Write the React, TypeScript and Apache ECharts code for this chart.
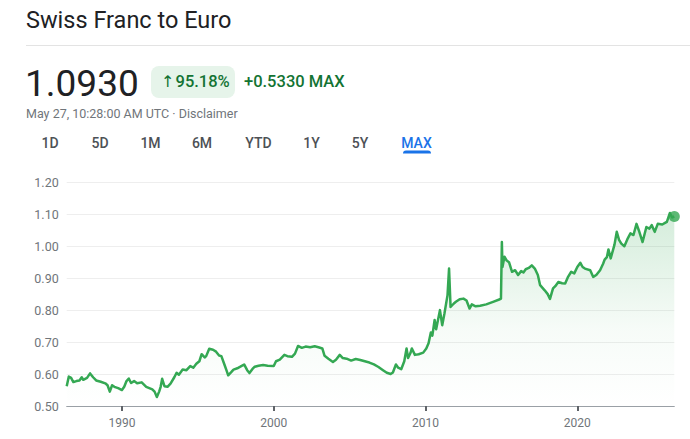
import React, { useEffect, useRef } from "react";
import * as echarts from "echarts";

const years = [
  1986.36, 1986.5, 1986.65, 1986.8, 1987.0, 1987.2, 1987.35, 1987.45, 1987.7, 1987.9,
  1988.1, 1988.3, 1988.6, 1988.9, 1989.05, 1989.2, 1989.35, 1989.5, 1989.75, 1990.0,
  1990.15, 1990.3, 1990.45, 1990.6, 1990.8, 1991.0, 1991.3, 1991.6, 1991.8, 1992.0,
  1992.15, 1992.3, 1992.45, 1992.55, 1992.65, 1992.8, 1993.0, 1993.2, 1993.45, 1993.6,
  1993.75, 1994.0, 1994.25, 1994.5, 1994.7, 1994.9, 1995.1, 1995.25, 1995.45, 1995.55,
  1995.75, 1996.0, 1996.2, 1996.4, 1996.55, 1996.75, 1996.9, 1997.0, 1997.2, 1997.35,
  1997.6, 1997.8, 1998.05, 1998.25, 1998.4, 1998.6, 1998.75, 1999.0, 1999.3, 1999.6,
  2000.0, 2000.15, 2000.4, 2000.7, 2000.9, 2001.2, 2001.4, 2001.6, 2001.85, 2002.1,
  2002.4, 2002.7, 2003.0, 2003.2, 2003.35, 2003.6, 2003.9, 2004.1, 2004.35, 2004.55,
  2004.8, 2005.1, 2005.4, 2005.7, 2006.0, 2006.3, 2006.6, 2006.9, 2007.2, 2007.45,
  2007.7, 2007.85, 2008.05, 2008.2, 2008.4, 2008.6, 2008.75, 2008.85, 2009.0, 2009.1,
  2009.3, 2009.55, 2009.85, 2010.05, 2010.2, 2010.35, 2010.45, 2010.6, 2010.7, 2010.95,
  2011.1, 2011.25, 2011.45, 2011.55, 2011.65, 2011.85, 2012.0, 2012.25, 2012.5, 2012.7,
  2012.9, 2013.05, 2013.3, 2013.6, 2014.0, 2014.45, 2014.9, 2014.97, 2015.03, 2015.07,
  2015.2, 2015.35, 2015.5, 2015.7, 2015.9, 2016.1, 2016.3, 2016.45, 2016.6, 2016.8,
  2017.0, 2017.2, 2017.4, 2017.55, 2017.85, 2018.05, 2018.2, 2018.4, 2018.55, 2018.75,
  2019.0, 2019.2, 2019.4, 2019.6, 2019.8, 2020.0, 2020.2, 2020.35, 2020.5, 2020.85,
  2021.05, 2021.25, 2021.5, 2021.7, 2021.8, 2021.95, 2022.05, 2022.2, 2022.45, 2022.6,
  2022.75, 2022.9, 2023.1, 2023.3, 2023.5, 2023.7, 2023.9, 2024.05, 2024.3, 2024.55,
  2024.75, 2024.9, 2025.1, 2025.3, 2025.6, 2025.75, 2025.9, 2026.1, 2026.25, 2026.39,
];

const rates = [
  0.562, 0.592, 0.588, 0.575, 0.578, 0.58, 0.59, 0.582, 0.588, 0.602,
  0.59, 0.58, 0.576, 0.571, 0.565, 0.545, 0.565, 0.56, 0.556, 0.55,
  0.56, 0.578, 0.586, 0.572, 0.578, 0.571, 0.574, 0.56, 0.556, 0.552,
  0.545, 0.528, 0.545, 0.56, 0.585, 0.562, 0.56, 0.57, 0.59, 0.604,
  0.598, 0.614, 0.612, 0.625, 0.62, 0.632, 0.64, 0.662, 0.652, 0.656,
  0.679, 0.676, 0.67, 0.658, 0.656, 0.63, 0.61, 0.596, 0.606, 0.614,
  0.618, 0.623, 0.63, 0.612, 0.603, 0.616, 0.623, 0.626, 0.628, 0.626,
  0.625, 0.64, 0.645, 0.66, 0.656, 0.654, 0.664, 0.688, 0.682, 0.686,
  0.684, 0.687, 0.683, 0.68, 0.657, 0.648, 0.638, 0.645, 0.66, 0.65,
  0.648, 0.642, 0.647, 0.644, 0.64, 0.636, 0.63, 0.622, 0.612, 0.604,
  0.6, 0.605, 0.63, 0.62, 0.615, 0.64, 0.68, 0.65, 0.665, 0.68,
  0.66, 0.662, 0.667, 0.68, 0.696, 0.73, 0.72, 0.769, 0.74, 0.8,
  0.753, 0.79, 0.847, 0.93, 0.81, 0.82, 0.826, 0.834, 0.836, 0.83,
  0.805, 0.818, 0.812, 0.814, 0.818, 0.826, 0.834, 0.836, 1.013, 0.935,
  0.967, 0.955, 0.95, 0.92, 0.925, 0.91, 0.922, 0.918, 0.928, 0.932,
  0.94, 0.93, 0.91, 0.878, 0.862, 0.85, 0.835, 0.868, 0.875, 0.888,
  0.884, 0.883, 0.905, 0.92, 0.915, 0.935, 0.948, 0.935, 0.93, 0.925,
  0.904, 0.91, 0.925, 0.945, 0.958, 0.966, 0.99, 0.962, 1.005, 1.045,
  1.02, 1.008, 1.0, 1.022, 1.04, 1.035, 1.07, 1.05, 1.013, 1.06,
  1.055, 1.066, 1.045, 1.07, 1.068, 1.072, 1.076, 1.104, 1.09, 1.093,
];

const xTickYears = [1990, 2000, 2010, 2020];
const rangeTabs = ["1D", "5D", "1M", "6M", "YTD", "1Y", "5Y", "MAX"];
const tabCenters = [50, 100, 150.5, 202, 258.5, 311.5, 360, 416.5];

const titleText = "Swiss Franc to Euro";
const priceText = "1.0930";
const arrowText = "\u2191";
const pctText = "95.18%";
const changeText = "+0.5330 MAX";
const dateText = "May 27, 10:28:00 AM UTC \u00b7 Disclaimer";

const FONT = "Roboto, 'Noto Sans', Arial, sans-serif";
const GREEN = "#34a853";

export default function App() {
  const ref = useRef<HTMLDivElement>(null);

  useEffect(() => {
    document.body.style.margin = "0";
    if (!ref.current) return;
    const chart = echarts.init(ref.current, undefined, { renderer: "svg" });

    const lineData = years.map((y, i) => [y, rates[i]]);
    const last = lineData[lineData.length - 1];

    const tabEls: any[] = rangeTabs.map((t, i) => ({
      type: "text",
      style: {
        text: t,
        x: tabCenters[i],
        y: 142.5,
        font: `500 14px ${FONT}`,
        fill: t === "MAX" ? "#1a73e8" : "#4d5156",
        textAlign: "center",
        textVerticalAlign: "middle",
      },
    }));

    chart.setOption({
      animation: false,
      backgroundColor: "#ffffff",
      grid: { left: 66.7, right: 15.7, top: 182.3, bottom: 33 },
      xAxis: {
        type: "value",
        min: years[0],
        max: years[years.length - 1],
        axisLine: { show: true, lineStyle: { color: "#9aa0a6", width: 1 } },
        axisTick: {
          show: true,
          customValues: xTickYears,
          length: 5,
          lineStyle: { color: "#5f6368", width: 2 },
        },
        axisLabel: {
          customValues: xTickYears,
          formatter: (v: number) => String(Math.round(v)),
          color: "#70757a",
          fontSize: 12,
          fontFamily: FONT,
          margin: 11,
        },
        splitLine: { show: false },
      },
      yAxis: {
        type: "value",
        min: 0.5,
        max: 1.2,
        interval: 0.1,
        axisLine: { show: false },
        axisTick: { show: false },
        axisLabel: {
          formatter: (v: number) => v.toFixed(2),
          color: "#70757a",
          fontSize: 12.5,
          fontFamily: FONT,
          margin: 8,
        },
        splitLine: { lineStyle: { color: "#eeeeee", width: 1 } },
      },
      series: [
        {
          type: "line",
          data: lineData,
          showSymbol: false,
          symbol: "none",
          smooth: false,
          lineStyle: { color: GREEN, width: 2.5, join: "round" },
          areaStyle: {
            color: new echarts.graphic.LinearGradient(0, 0, 0, 1, [
              { offset: 0, color: "rgba(52,168,83,0.30)" },
              { offset: 0.6, color: "rgba(52,168,83,0.06)" },
              { offset: 1, color: "rgba(52,168,83,0.0)" },
            ]),
          },
          z: 2,
        },
        {
          type: "scatter",
          data: [last],
          symbolSize: 11,
          itemStyle: { color: GREEN },
          z: 3,
        },
      ],
      graphic: [
        {
          type: "text",
          style: {
            text: titleText,
            x: 26,
            y: 20.3,
            font: `400 23.5px ${FONT}`,
            fill: "#202124",
            textVerticalAlign: "middle",
          },
        },
        {
          type: "line",
          shape: { x1: 26, y1: 45.5, x2: 690, y2: 45.5 },
          style: { stroke: "#e3e3e3", lineWidth: 1 },
        },
        {
          type: "text",
          style: {
            text: priceText,
            x: 25,
            y: 83.5,
            font: `400 37px ${FONT}`,
            fill: "#202124",
            textVerticalAlign: "middle",
          },
        },
        {
          type: "rect",
          shape: { x: 151, y: 66, width: 84, height: 32, r: 8 },
          style: { fill: "#e6f4ea" },
        },
        {
          type: "text",
          style: {
            text: arrowText,
            x: 161,
            y: 81.5,
            font: `400 16px 'DejaVu Sans', ${FONT}`,
            fill: "#137333",
            textVerticalAlign: "middle",
          },
        },
        {
          type: "text",
          style: {
            text: pctText,
            x: 175.5,
            y: 81.5,
            font: `500 16.5px ${FONT}`,
            fill: "#137333",
            textVerticalAlign: "middle",
          },
        },
        {
          type: "text",
          style: {
            text: changeText,
            x: 244,
            y: 81.5,
            font: `500 16.5px ${FONT}`,
            fill: "#137333",
            textVerticalAlign: "middle",
          },
        },
        {
          type: "text",
          style: {
            text: dateText,
            x: 26,
            y: 113,
            font: `400 12.5px ${FONT}`,
            fill: "#70757a",
            textVerticalAlign: "middle",
          },
        },
        ...tabEls,
        {
          type: "rect",
          shape: { x: 403, y: 150.5, width: 28, height: 3, r: [3, 3, 0, 0] },
          style: { fill: "#1a73e8" },
        },
      ],
    });

    return () => chart.dispose();
  }, []);

  return <div ref={ref} style={{ width: 690, height: 439 }} />;
}
